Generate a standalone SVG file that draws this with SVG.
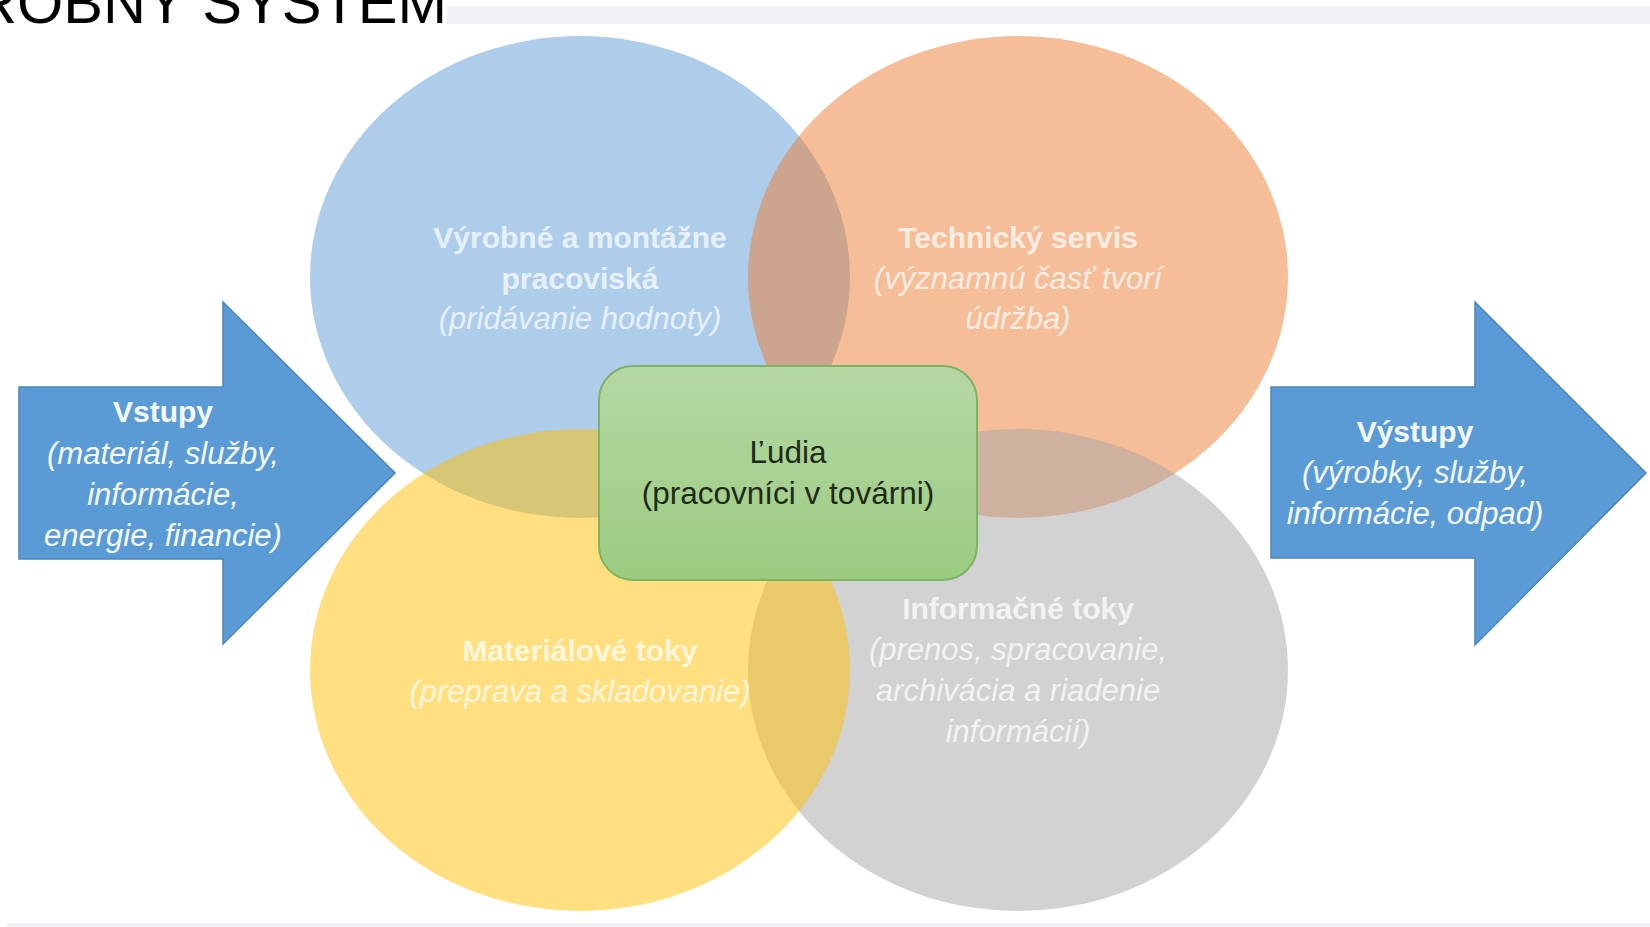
<svg xmlns="http://www.w3.org/2000/svg" width="1650" height="927" viewBox="0 0 1650 927">
<defs>
<linearGradient id="gGreen" x1="0" y1="0" x2="0" y2="1">
<stop offset="0" stop-color="#B6D8A4"/>
<stop offset="1" stop-color="#9BCB81"/>
</linearGradient>
<style>
.bar{fill:#F0F0F5}
.circ{opacity:0.5}
.arrow{fill:#5B9BD5;stroke:#4A86BE;stroke-width:1.5}
.t{font-family:"Liberation Sans",Arial,sans-serif;text-anchor:middle}
.b{font-weight:bold;font-size:30px}
.i{font-style:italic;font-size:31px}
.cw{fill:#FFFFFF;fill-opacity:0.74}
.aw{fill:#F4F8FC}
.dk{fill:#1E2A1A;font-size:31.5px}
</style>
</defs>
<rect width="1650" height="927" fill="#FFFFFF"/>
<g id="header">
<rect class="bar" x="447" y="6" width="1203" height="18"/>
<rect class="bar" x="7" y="923" width="1643" height="4"/>
<text x="-26" y="23" font-family="'Liberation Sans',Arial,sans-serif" font-size="59" fill="#000000" textLength="473" lengthAdjust="spacingAndGlyphs">ROBNÝ SYSTÉM</text>
</g>
<g id="circle-vyrobne">
<ellipse class="circ" cx="580" cy="277" rx="270" ry="241" fill="#5B9BD5"/>
</g>
<g id="circle-technicky">
<ellipse class="circ" cx="1018" cy="277" rx="270" ry="241" fill="#ED7D31"/>
</g>
<g id="circle-informacne">
<ellipse class="circ" cx="1018" cy="670" rx="270" ry="241" fill="#A5A5A5"/>
</g>
<g id="circle-materialove">
<ellipse class="circ" cx="580" cy="670" rx="270" ry="241" fill="#FFC000"/>
</g>
<g id="label-vyrobne">
<text class="t b cw" x="580" y="248">Výrobné a montážne</text>
<text class="t b cw" x="580" y="289">pracoviská</text>
<text class="t i cw" x="580" y="329">(pridávanie hodnoty)</text>
</g>
<g id="label-technicky">
<text class="t b cw" x="1018" y="248">Technický servis</text>
<text class="t i cw" x="1018" y="289">(významnú časť tvorí</text>
<text class="t i cw" x="1018" y="329">údržba)</text>
</g>
<g id="label-materialove">
<text class="t b cw" x="580" y="661">Materiálové toky</text>
<text class="t i cw" x="580" y="702">(preprava a skladovanie)</text>
</g>
<g id="label-informacne">
<text class="t b cw" x="1018" y="619">Informačné toky</text>
<text class="t i cw" x="1018" y="660">(prenos, spracovanie,</text>
<text class="t i cw" x="1018" y="701">archivácia a riadenie</text>
<text class="t i cw" x="1018" y="742">informácií)</text>
</g>
<g id="node-ludia">
<rect x="599" y="366" width="378" height="214" rx="34" ry="34" fill="url(#gGreen)" stroke="#7DB464" stroke-width="2"/>
<text class="t dk" x="788" y="463">Ľudia</text>
<text class="t dk" x="788" y="504">(pracovníci v továrni)</text>
</g>
<g id="node-vstupy">
<polygon class="arrow" points="19,387 223,387 223,302 395,473 223,644 223,559 19,559"/>
<text class="t b aw" x="163" y="422">Vstupy</text>
<text class="t i aw" x="163" y="464">(materiál, služby,</text>
<text class="t i aw" x="163" y="505">informácie,</text>
<text class="t i aw" x="163" y="546">energie, financie)</text>
</g>
<g id="node-vystupy">
<polygon class="arrow" points="1271,387 1475,387 1475,302 1646,473 1475,645 1475,558 1271,558"/>
<text class="t b aw" x="1415" y="442">Výstupy</text>
<text class="t i aw" x="1415" y="483">(výrobky, služby,</text>
<text class="t i aw" x="1415" y="524">informácie, odpad)</text>
</g>
</svg>
